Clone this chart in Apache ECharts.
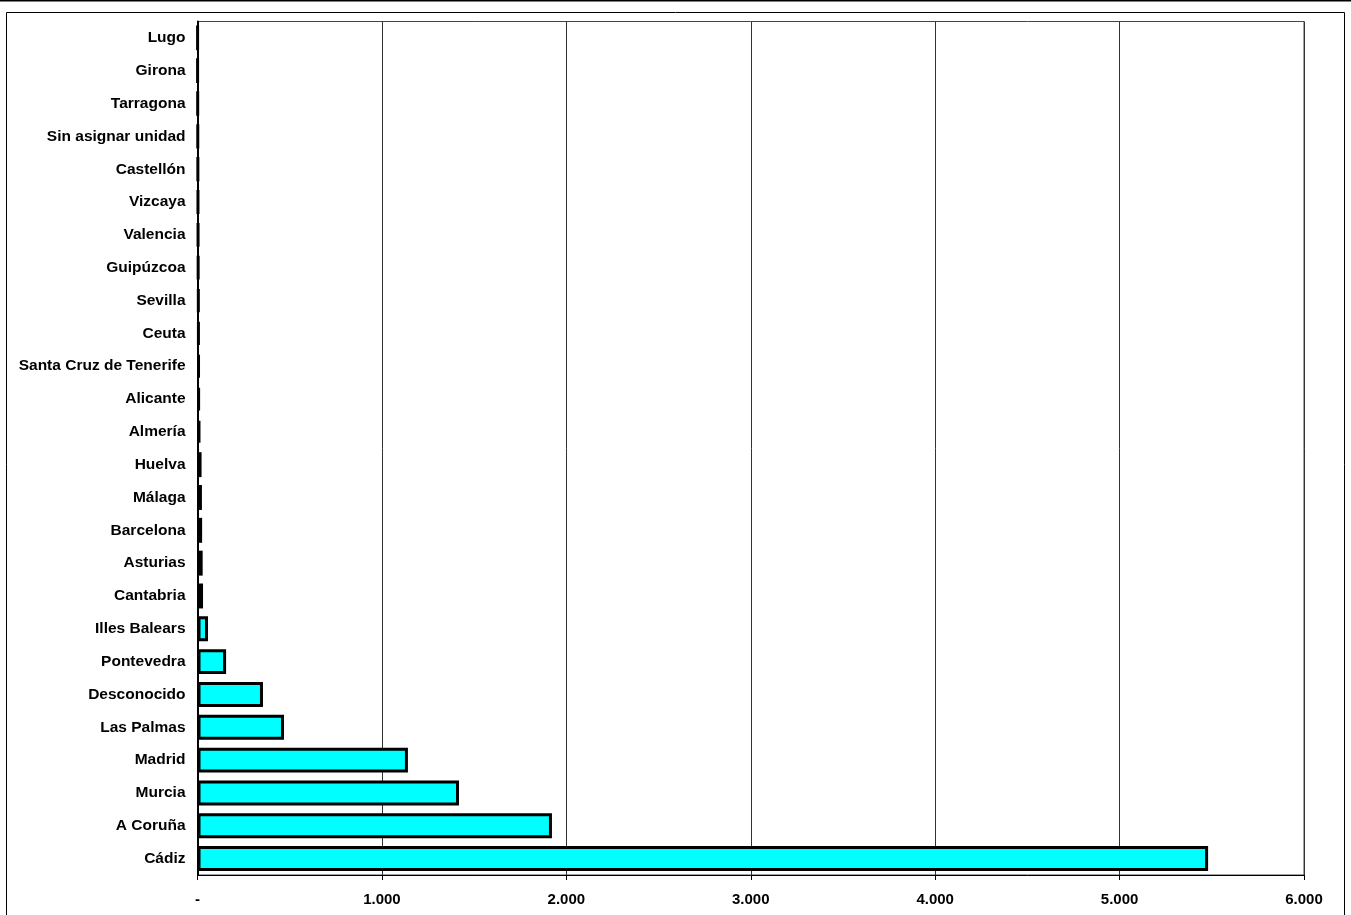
<!DOCTYPE html>
<html><head><meta charset="utf-8">
<script src="https://cdn.jsdelivr.net/npm/echarts@6/dist/echarts.min.js"></script>
<style>html,body{margin:0;padding:0;background:#fff}#c{width:1351px;height:915px}</style>
</head><body><div id="c"></div>
<script>
// categories bottom to top
const categories = ["Cádiz","A Coruña","Murcia","Madrid","Las Palmas","Desconocido","Pontevedra","Illes Balears","Cantabria","Asturias","Barcelona","Málaga","Huelva","Almería","Alicante","Santa Cruz de Tenerife","Ceuta","Sevilla","Guipúzcoa","Valencia","Vizcaya","Castellón","Sin asignar unidad","Tarragona","Girona","Lugo"];
const values = [5480,1922,1418,1141,469,355,155,57,30,28,25,24,22,16,12,11,10,9,7,6,5,4,3,2,1,1];
const tickLabels = {0:"-",1000:"1.000",2000:"2.000",3000:"3.000",4000:"4.000",5000:"5.000",6000:"6.000"};

const chart = echarts.init(document.getElementById('c'));
const font = 'Liberation Sans, Arial, sans-serif';
chart.setOption({
  animation:false,
  graphic:[
    {type:'line',shape:{x1:0,y1:0.5,x2:1351,y2:0.5},style:{stroke:'#000',lineWidth:2}},
    {type:'rect',shape:{x:6.5,y:12.5,width:1338,height:910},style:{fill:null,stroke:'#000',lineWidth:1}}
  ],
  grid:{left:197.5,right:47,top:21.5,bottom:40,show:true,borderColor:'#444',borderWidth:1,containLabel:false},
  xAxis:{type:'value',min:0,max:6000,interval:1000,
    axisLine:{show:true,lineStyle:{color:'#000',width:1}},
    axisTick:{show:true,length:5,lineStyle:{color:'#000'}},
    splitLine:{show:true,lineStyle:{color:'#333',width:1}},
    axisLabel:{formatter:v=>tickLabels[v]||'',color:'#000',fontFamily:font,fontWeight:'bold',fontSize:15,margin:17}},
  yAxis:{type:'category',data:categories,
    axisLine:{show:true,lineStyle:{color:'#000',width:2}},
    axisTick:{show:false},
    splitLine:{show:false},
    axisLabel:{color:'#000',fontFamily:font,fontWeight:'bold',fontSize:15.5,margin:12,padding:[4,0,0,0]}},
  series:[{type:'bar',data:values,barCategoryGap:'24%',
    itemStyle:{color:'#00ffff',borderColor:'#000',borderWidth:3}}]
});
</script></body></html>
